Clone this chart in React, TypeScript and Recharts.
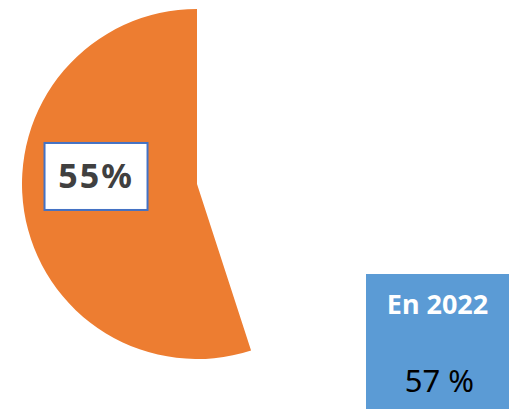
import { Cell, Pie, PieChart } from "recharts";

const categories = ["Oui", "Non"];
const shares = [55, 45];
const colors = ["#ED7D31", "transparent"];
const boxTitle = "En 2022";
const boxValue = "57 %";

const data = categories.map((name, i) => ({ name, value: shares[i] }));

const renderLabel = (props: any) => {
    const { cx, cy, outerRadius, index, percent } = props;
    if (index !== 0) return null;
    const lx = cx - 0.577 * outerRadius;
    const ly = cy - 0.043 * outerRadius;
    const w = 103;
    const h = 67;
    return (
        <g>
            <rect
                x={lx - w / 2}
                y={ly - h / 2}
                width={w}
                height={h}
                fill="#ffffff"
                stroke="#4472C4"
                strokeWidth={2}
            />
            <text
                x={lx}
                y={ly + 12}
                textAnchor="middle"
                fontFamily="'Noto Sans', sans-serif"
                fontWeight="bold"
                fontSize={34}
                letterSpacing={2}
                fill="#404040"
            >
                {`${Math.round(percent * 100)}%`}
            </text>
        </g>
    );
};

const App = () => {
    return (
        <div
            style={{
                position: "absolute",
                left: 0,
                top: 0,
                width: 509,
                height: 409,
                background: "#ffffff",
                overflow: "hidden",
            }}
        >
            <PieChart
                width={509}
                height={409}
                margin={{ top: 0, right: 0, bottom: 0, left: 0 }}
            >
                <Pie
                    data={data}
                    dataKey="value"
                    nameKey="name"
                    cx={197}
                    cy={184}
                    outerRadius={175}
                    startAngle={90}
                    endAngle={450}
                    stroke="none"
                    labelLine={false}
                    label={renderLabel}
                    isAnimationActive={false}
                >
                    {data.map((d, i) => (
                        <Cell key={d.name} fill={colors[i]} />
                    ))}
                </Pie>
            </PieChart>
            <div
                style={{
                    position: "absolute",
                    left: 366,
                    top: 274,
                    width: 143,
                    height: 135,
                    background: "#5B9BD5",
                    fontFamily: "'Noto Sans', sans-serif",
                    textAlign: "center",
                }}
            >
                <div
                    style={{
                        position: "absolute",
                        left: 0,
                        right: 0,
                        top: 12,
                        color: "#ffffff",
                        fontWeight: "bold",
                        fontSize: 27,
                        lineHeight: "36px",
                    }}
                >
                    {boxTitle}
                </div>
                <div
                    style={{
                        position: "absolute",
                        left: 4,
                        right: 0,
                        top: 87,
                        color: "#000000",
                        fontSize: 31,
                        lineHeight: "38px",
                    }}
                >
                    {boxValue}
                </div>
            </div>
        </div>
    );
};

export default App;
